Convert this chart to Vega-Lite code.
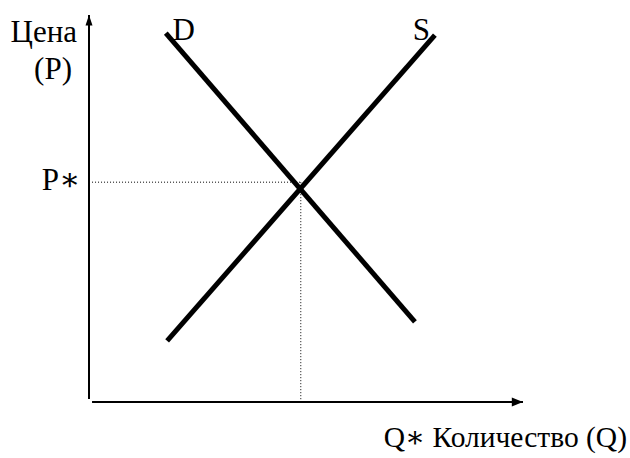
{
  "$schema": "https://vega.github.io/schema/vega-lite/v6.json",
  "width": 434,
  "height": 387,
  "autosize": {"type": "none"},
  "padding": {"left": 89, "top": 15, "right": 107, "bottom": 56},
  "background": "white",
  "config": {"view": {"stroke": null}},
  "datasets": {
    "curves": [
      {"curve": "D", "q": 1.77, "p": 9.53},
      {"curve": "D", "q": 7.51, "p": 2.07},
      {"curve": "S", "q": 1.80, "p": 1.58},
      {"curve": "S", "q": 7.97, "p": 9.48}
    ],
    "axes": [
      {"name": "P", "q": 0, "p": 0.08, "q2": 0, "p2": 10},
      {"name": "Q", "q": 0.07, "p": 0, "q2": 10, "p2": 0}
    ],
    "guides": [
      {"name": "P*", "q": 0.07, "p": 5.68, "q2": 4.88, "p2": 5.68},
      {"name": "Q*", "q": 4.88, "p": 5.68, "q2": 4.88, "p2": 0}
    ],
    "arrows": [
      {"dir": "up", "q": 0, "p": 10},
      {"dir": "right", "q": 10, "p": 0}
    ],
    "labels": [
      {"label": "Цена", "q": -0.276, "p": 9.30},
      {"label": "(P)", "q": -0.392, "p": 8.35},
      {"label": "P∗", "q": -0.207, "p": 5.48},
      {"label": "D", "q": 2.442, "p": 9.354},
      {"label": "S", "q": 7.857, "p": 9.354}
    ],
    "title": [
      {"label": "Q∗ Количество (Q)", "q": 12.396, "p": -1.163}
    ]
  },
  "encoding": {
    "x": {"field": "q", "type": "quantitative", "scale": {"domain": [0, 10], "nice": false, "zero": false}, "axis": null},
    "y": {"field": "p", "type": "quantitative", "scale": {"domain": [0, 10], "nice": false, "zero": false}, "axis": null}
  },
  "layer": [
    {
      "data": {"name": "guides"},
      "mark": {"type": "rule", "stroke": "#000000", "strokeWidth": 1, "strokeDash": [1, 2]},
      "encoding": {"x2": {"field": "q2"}, "y2": {"field": "p2"}}
    },
    {
      "data": {"name": "axes"},
      "mark": {"type": "rule", "stroke": "#000000", "strokeWidth": 2},
      "encoding": {"x2": {"field": "q2"}, "y2": {"field": "p2"}}
    },
    {
      "data": {"name": "arrows"},
      "mark": {"type": "point", "filled": true, "color": "#000000", "opacity": 1, "size": 196, "strokeWidth": 0},
      "encoding": {
        "shape": {"field": "dir", "type": "nominal", "scale": {"domain": ["up", "right"], "range": ["M0,0L-0.5,1.5L0.5,1.5Z", "M0,0L-1.6,-0.65L-1.6,0.65Z"]}, "legend": null}
      }
    },
    {
      "data": {"name": "curves"},
      "mark": {"type": "line", "stroke": "#000000", "strokeWidth": 5, "strokeCap": "butt"},
      "encoding": {"detail": {"field": "curve", "type": "nominal"}}
    },
    {
      "data": {"name": "labels"},
      "mark": {"type": "text", "font": "Liberation Serif, Times New Roman, DejaVu Serif, serif", "fontSize": 31, "align": "right", "baseline": "alphabetic", "color": "#000000"},
      "encoding": {"text": {"field": "label", "type": "nominal"}}
    },
    {
      "data": {"name": "title"},
      "mark": {"type": "text", "font": "Liberation Serif, Times New Roman, DejaVu Serif, serif", "fontSize": 29.5, "align": "right", "baseline": "alphabetic", "color": "#000000"},
      "encoding": {"text": {"field": "label", "type": "nominal"}}
    }
  ]
}
